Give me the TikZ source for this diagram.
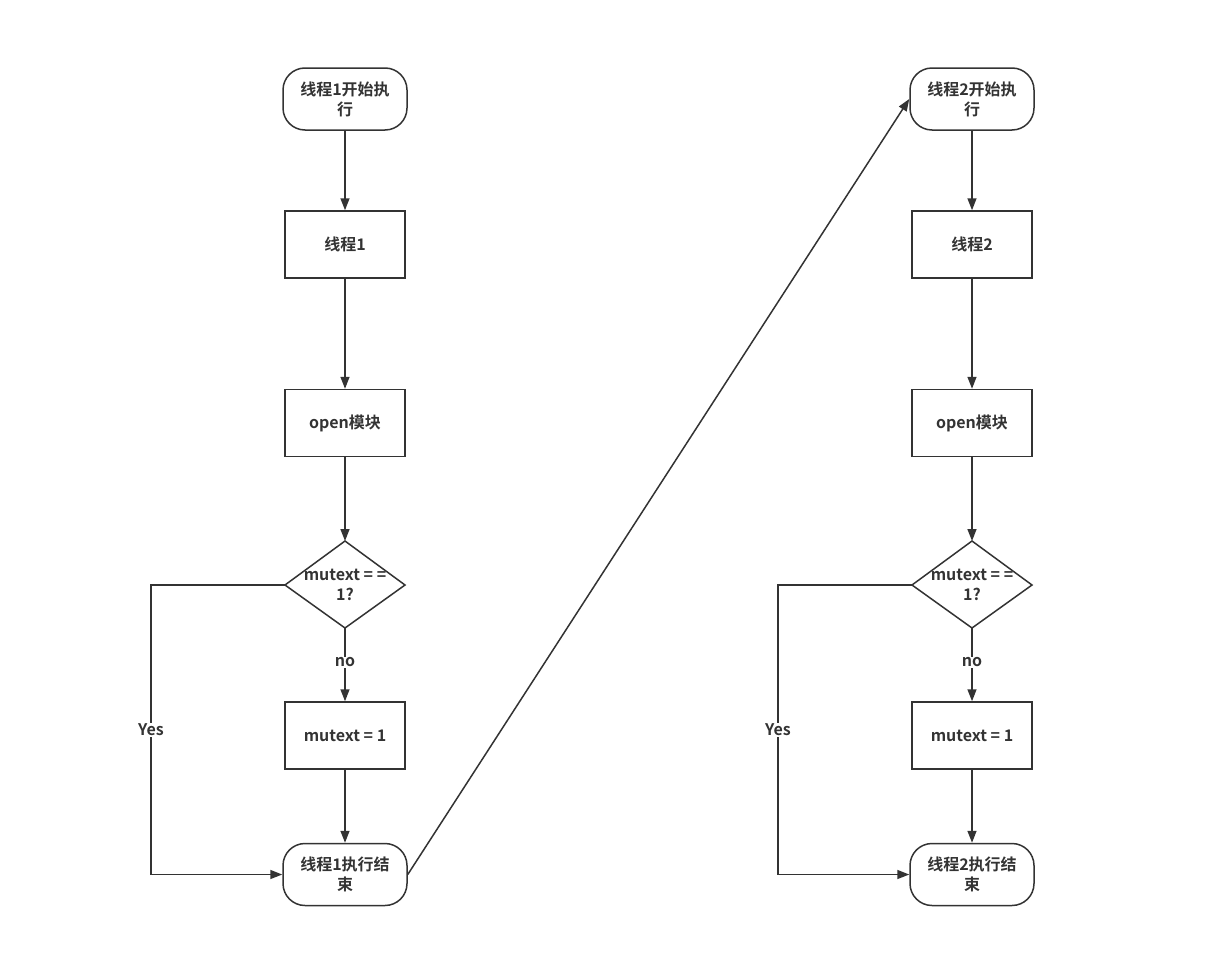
\documentclass[tikz,border=0pt]{standalone}
\usepackage{fontspec}
\setmainfont{Noto Sans CJK SC}[BoldFont={Noto Sans CJK SC Bold}]
\usetikzlibrary{shapes.geometric,arrows.meta}
\definecolor{ink}{HTML}{333333}
\begin{document}
\begin{tikzpicture}[x=1pt,y=-1pt,
  base/.style={draw=ink,line width=1.5pt,text=ink,font=\fontsize{16}{20}\selectfont\bfseries,align=center,inner sep=0pt},
  term/.style={base,minimum width=124pt,minimum height=62pt,rounded corners=22pt},
  proc/.style={base,minimum width=120pt,minimum height=67pt},
  conn/.style={draw=ink,line width=1.5pt,-{Triangle[length=12pt,width=9pt]}},
  lbl/.style={fill=white,text=ink,font=\fontsize{16}{20}\selectfont\bfseries,inner sep=1pt}]
\useasboundingbox (0,0) rectangle (1231,977);
% left column
\node[term] (s1) at (345,99) {线程1开始执\\行};
\node[proc] (p1) at (345,244.5) {线程1};
\node[proc] (o1) at (345,423) {open模块};
\node[base,draw=none] (d1t) at (345,585) {mutext = =\\1?};
\path[base,draw] (345,541) coordinate (d1n) -- (405,585) coordinate (d1e) -- (345,628) coordinate (d1s) -- (285,585) coordinate (d1w) -- cycle;
\node[proc] (m1) at (345,735.5) {mutext = 1};
\node[term] (e1) at (345,874.5) {线程1执行结\\束};
\coordinate (y1a) at (151,585);
\coordinate (y1b) at (151,874.5);
\draw[conn] (s1) -- (p1);
\draw[conn] (p1) -- (o1);
\draw[conn] (o1) -- (d1n);
\draw[conn] (d1s) -- node[lbl,pos=0.47] (n1) {no} (m1);
\draw[conn] (m1) -- (e1);
\draw[conn] (d1w) -- (y1a) -- node[lbl,pos=0.5] (ylab1) {Yes} (y1b) -- (e1.west);
% right column
\node[term] (s2) at (972,99) {线程2开始执\\行};
\node[proc] (p2) at (972,244.5) {线程2};
\node[proc] (o2) at (972,423) {open模块};
\node[base,draw=none] (d2t) at (972,585) {mutext = =\\1?};
\path[base,draw] (972,541) coordinate (d2n) -- (1032,585) coordinate (d2e) -- (972,628) coordinate (d2s) -- (912,585) coordinate (d2w) -- cycle;
\node[proc] (m2) at (972,735.5) {mutext = 1};
\node[term] (e2) at (972,874.5) {线程2执行结\\束};
\coordinate (y2a) at (778,585);
\coordinate (y2b) at (778,874.5);
\draw[conn] (s2) -- (p2);
\draw[conn] (p2) -- (o2);
\draw[conn] (o2) -- (d2n);
\draw[conn] (d2s) -- node[lbl,pos=0.47] (n2) {no} (m2);
\draw[conn] (m2) -- (e2);
\draw[conn] (d2w) -- (y2a) -- node[lbl,pos=0.5] (ylab2) {Yes} (y2b) -- (e2.west);
% cross connector
\draw[conn] (e1.east) -- (s2.west);
\end{tikzpicture}
\end{document}
